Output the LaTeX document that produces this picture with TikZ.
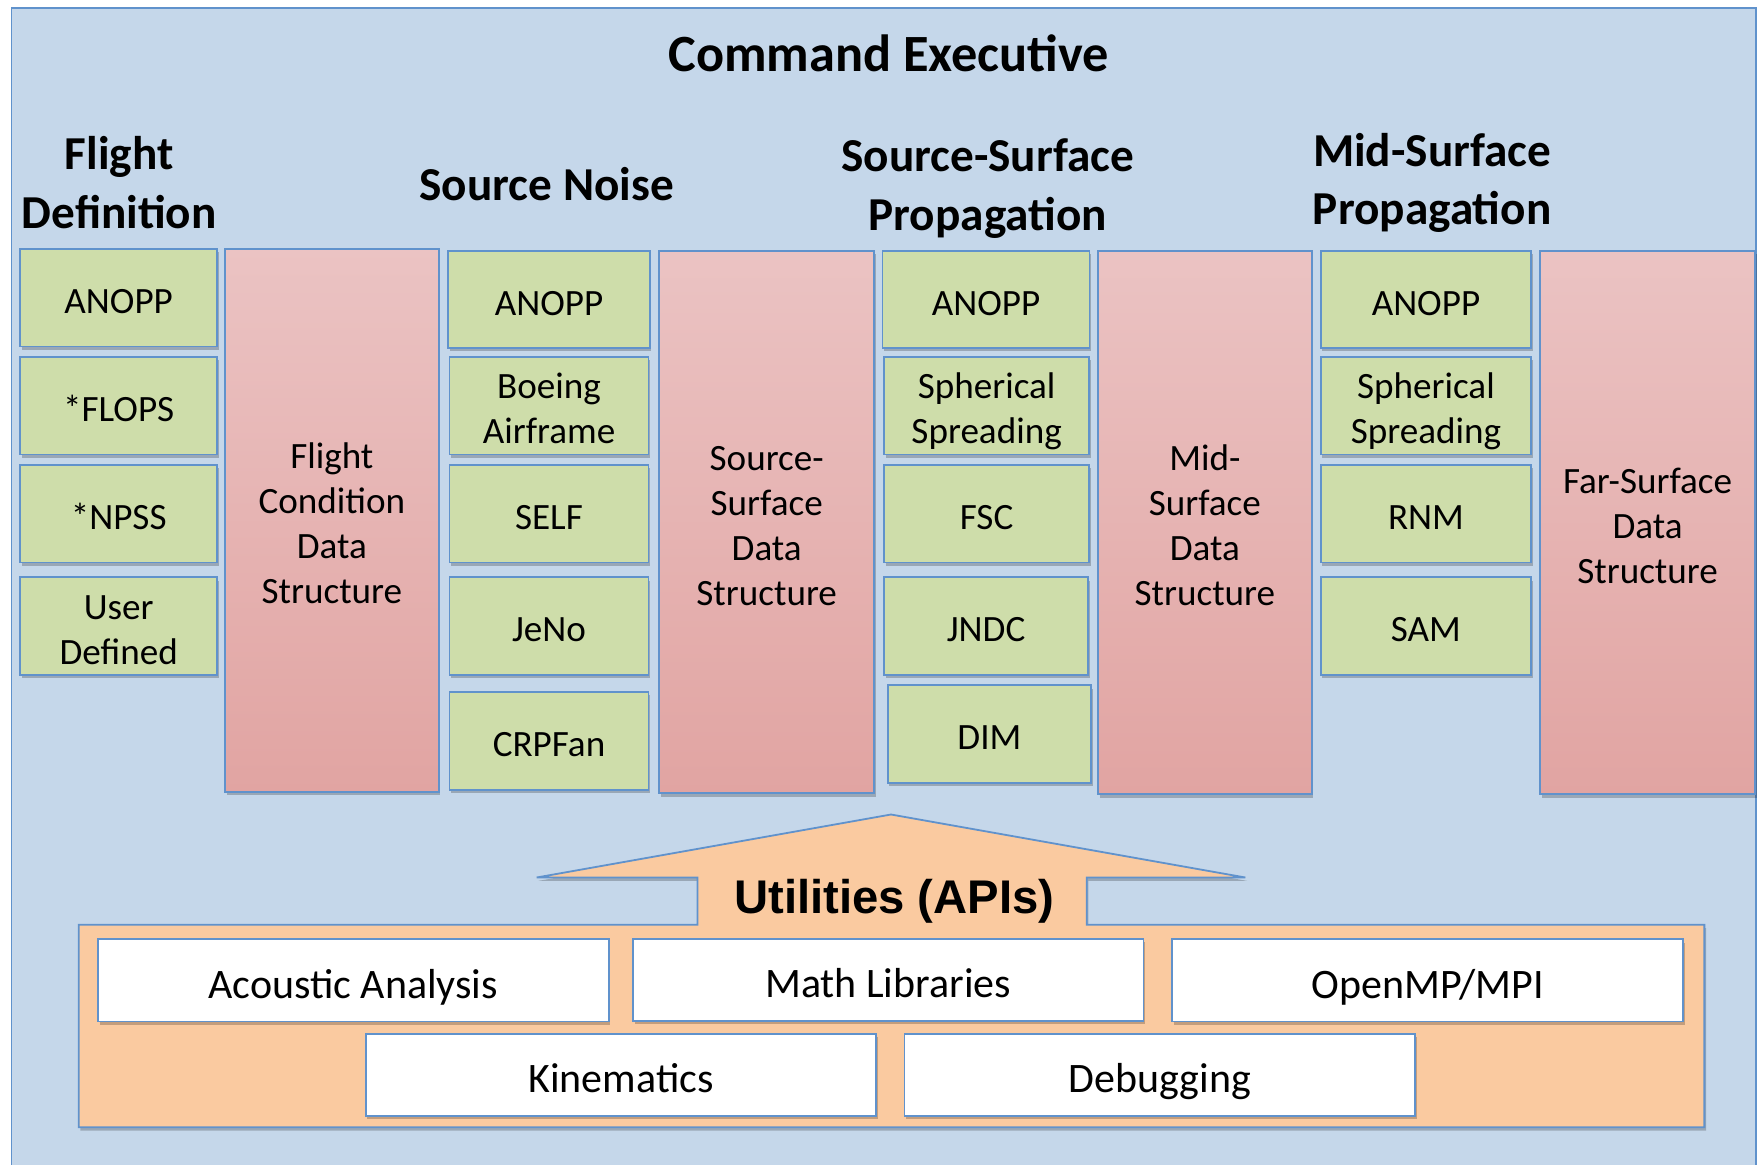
\documentclass[tikz,border=0pt]{standalone}
\usepackage{fontspec}
\setmainfont{Carlito}
\newfontfamily\arialfam{Liberation Sans}
\usetikzlibrary{shadows}

\definecolor{skyfill}{RGB}{197,215,234}
\definecolor{edgeblue}{RGB}{96,146,204}
\definecolor{greenfill}{RGB}{206,221,170}
\definecolor{pinktop}{RGB}{235,195,195}
\definecolor{pinkbot}{RGB}{225,164,162}
\definecolor{orangefill}{RGB}{250,202,160}

\newcommand\boxfont{\fontsize{33}{40}\selectfont}
\newcommand\headfont{\fontsize{42}{52}\selectfont\bfseries}
\newcommand\titlefont{\fontsize{46.5}{54}\selectfont\bfseries}
\newcommand\libfont{\fontsize{37.3}{45}\selectfont}
\newcommand\apifont{\fontsize{42}{48}\selectfont\arialfam\bfseries}
% line strut: gives every text line the full ascent and descent of the font
\newcommand\ls{\rule[-0.18em]{0pt}{1.21em}}

\tikzset{
  softshadow/.style={drop shadow={shadow xshift=1.5pt,shadow yshift=-3pt,fill=black,opacity=0.22}},
  frame/.style={draw=edgeblue,line width=1.3pt,fill=skyfill},
  gbox/.style={draw=edgeblue,line width=1.6pt,fill=greenfill,align=center,font=\boxfont,
    inner sep=0pt,softshadow},
  pbox/.style={draw=edgeblue,line width=1.6pt,top color=pinktop,bottom color=pinkbot,
    align=center,font=\boxfont,inner sep=0pt,softshadow},
  wbox/.style={draw=edgeblue,line width=1.6pt,fill=white,font=\libfont,inner sep=0pt,
    minimum width=454pt,minimum height=73pt,softshadow},
  head/.style={font=\headfont,align=center,inner sep=0pt},
  utilshape/.style={draw=edgeblue,line width=1.6pt,fill=orangefill,softshadow},
}

\begin{document}
\begin{tikzpicture}[x=1pt,y=-1pt]
\useasboundingbox (0,0) rectangle (1568,1035);
\clip (0,0) rectangle (1568,1035);

% outer frame
\draw[frame] (10,7) rectangle (1561,1060);

% title and column headings
\node[font=\titlefont,inner sep=0pt] (title) at (790,47) {Command Executive};
\node[head] (hflight) at (106,162.5) {Flight\\Definition};
\node[head] (hsource) at (486,164) {Source Noise};
\node[head] (hssp) at (878,167.5) {Source-Surface\\Propagation};
\node[head] (hmsp) at (1273,162.5) {Mid-Surface\\Propagation};

% column 1: flight definition
\node[gbox,minimum width=175pt,minimum height=87pt] (fa) at (105.5,264.5) {\ls ANOPP};
\node[gbox,minimum width=175pt,minimum height=87pt] (fb) at (105.5,360.5) {\ls *FLOPS};
\node[gbox,minimum width=175pt,minimum height=87pt] (fc) at (105.5,456.5) {\ls *NPSS};
\node[gbox,minimum width=175pt,minimum height=87pt] (fd) at (105.5,556.5) {\ls User\\Defined\ls};
\node[pbox,minimum width=190pt,minimum height=483pt] (ds1) at (295,462.5)
  {\ls Flight\\Condition\\Data\\Structure\ls};

% column 2: source noise
\node[gbox,minimum width=179pt,minimum height=86pt] (sa) at (488,266) {\ls ANOPP};
\node[gbox,minimum width=177pt,minimum height=87pt] (sb) at (488,360.5) {\ls Boeing\\Airframe\ls};
\node[gbox,minimum width=177pt,minimum height=87pt] (sc) at (488,456.5) {\ls SELF};
\node[gbox,minimum width=177pt,minimum height=87pt] (sd) at (488,556.5) {\ls JeNo};
\node[gbox,minimum width=177pt,minimum height=87pt] (se) at (488,658.5) {\ls CRPFan};
\node[pbox,minimum width=191pt,minimum height=482pt] (ds2) at (681.5,464)
  {\ls Source-\\Surface\\Data\\Structure\ls};

% column 3: source-surface propagation
\node[gbox,minimum width=184pt,minimum height=86pt] (pa) at (876.5,266) {\ls ANOPP};
\node[gbox,minimum width=182pt,minimum height=87pt] (pb) at (877,360.5) {\ls Spherical\\Spreading\ls};
\node[gbox,minimum width=182pt,minimum height=87pt] (pc) at (877,456.5) {\ls FSC};
\node[gbox,minimum width=181pt,minimum height=87pt] (pd) at (876.5,556.5) {\ls JNDC};
\node[gbox,minimum width=181pt,minimum height=87pt] (pe) at (879.5,652.5) {\ls DIM};
\node[pbox,minimum width=190pt,minimum height=483pt] (ds3) at (1071,464.5)
  {\ls Mid-\\Surface\\Data\\Structure\ls};

% column 4: mid-surface propagation
\node[gbox,minimum width=187pt,minimum height=86pt] (ma) at (1267.5,266) {\ls ANOPP};
\node[gbox,minimum width=187pt,minimum height=87pt] (mb) at (1267.5,360.5) {\ls Spherical\\Spreading\ls};
\node[gbox,minimum width=187pt,minimum height=87pt] (mc) at (1267.5,456.5) {\ls RNM};
\node[gbox,minimum width=187pt,minimum height=87pt] (md) at (1267.5,556.5) {\ls SAM};
\node[pbox,minimum width=191pt,minimum height=483pt] (ds4) at (1464.5,464.5)
  {\ls Far-Surface\\Data\\Structure\ls};

% utilities block with its upward arrow
\draw[utilshape] (70,822) -- (620,822) -- (620,780) -- (477,780) -- (792,724)
  -- (1107,780) -- (966,780) -- (966,822) -- (1515,822) -- (1515,1002)
  -- (70,1002) -- cycle;
\node[font=\apifont,inner sep=0pt] (util) at (795,801) {Utilities (APIs)};

\node[wbox] (acoustic) at (314,871.5) {\ls Acoustic Analysis};
\node[wbox] (math) at (789.5,871) {\ls Math Libraries};
\node[wbox] (mpi) at (1269,871.5) {\ls OpenMP/MPI};
\node[wbox] (kin) at (552,955.5) {\ls Kinematics};
\node[wbox] (debug) at (1031,955.5) {\ls Debugging};
\end{tikzpicture}
\end{document}
